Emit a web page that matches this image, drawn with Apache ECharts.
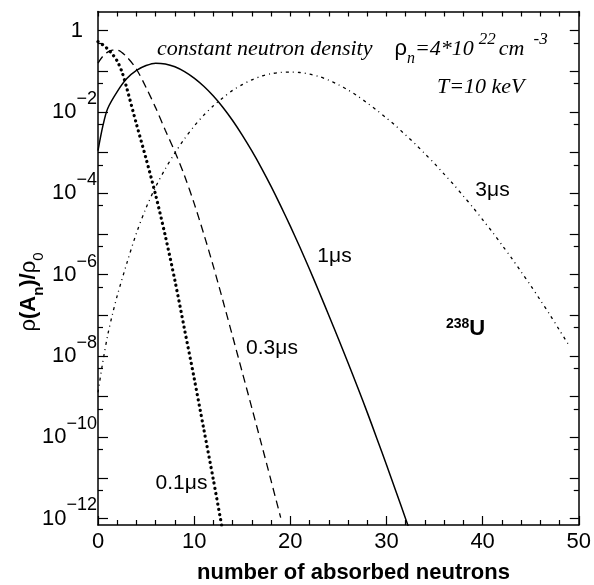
<!DOCTYPE html>
<html>
<head>
<meta charset="utf-8">
<script src="https://cdn.jsdelivr.net/npm/echarts@6.0.0/dist/echarts.min.js"></script>
<style>
  html, body { margin: 0; padding: 0; background: #fff; }
  #chart { width: 594px; height: 585px; }
</style>
</head>
<body>
<div id="chart"></div>
<script>
// number of absorbed neutrons n, and log10 of rho(A_n)/rho_0
const n01 = [0, 0.5, 1, 1.5, 2, 2.5, 3, 4, 5, 6, 7, 8, 9, 10, 11, 12, 13]
const lg01 = [-0.27, -0.35, -0.45, -0.58, -0.75, -1.02, -1.42, -2.3, -3.15, -4.05, -5.05, -6.15, -7.35, -8.55, -9.8, -11.05, -12.35]

const n03 = [0, 0.5, 1, 1.5, 2, 3, 4, 5, 6, 7, 8, 9, 10, 11, 12, 13, 14, 15, 16, 17, 18, 19]
const lg03 = [-0.8, -0.63, -0.53, -0.48, -0.48, -0.65, -0.95, -1.4, -1.9, -2.45, -2.98, -3.57, -4.25, -5.0, -5.8, -6.65, -7.52, -8.4, -9.28, -10.17, -11.07, -11.98]

const n1 = [0, 0.5, 1, 2, 3, 4, 5, 6, 7, 8, 9, 10, 11, 12, 13, 14, 15, 16, 17, 18, 19, 20, 21, 22, 23, 24, 25, 26, 27, 28, 29, 30, 31, 32, 33]
const lg1 = [-2.95, -2.35, -1.92, -1.5, -1.18, -0.98, -0.86, -0.8, -0.82, -0.89, -1.01, -1.17, -1.37, -1.61, -1.89, -2.21, -2.57, -2.96, -3.38, -3.83, -4.31, -4.81, -5.33, -5.87, -6.43, -7.0, -7.58, -8.17, -8.77, -9.39, -10.03, -10.68, -11.34, -12.01, -12.69]

const n3 = [0, 0.5, 1, 1.5, 2, 3, 4, 5, 6, 7, 8, 9, 10, 11, 12, 13, 14, 15, 16, 17, 18, 19, 20, 21, 22, 23, 24, 25, 26, 27, 28, 29, 30, 31, 32, 33, 34, 35, 36, 37, 38, 39, 40, 41, 42, 43, 44, 45, 46, 47, 48, 49]
const lg3 = [-8.9, -8.15, -7.5, -6.98, -6.52, -5.72, -4.98, -4.36, -3.84, -3.4, -3.01, -2.66, -2.35, -2.08, -1.85, -1.65, -1.47, -1.33, -1.21, -1.12, -1.06, -1.03, -1.02, -1.03, -1.07, -1.13, -1.22, -1.33, -1.46, -1.61, -1.78, -1.96, -2.15, -2.35, -2.57, -2.79, -3.03, -3.27, -3.53, -3.79, -4.07, -4.35, -4.65, -4.95, -5.27, -5.59, -5.93, -6.27, -6.63, -6.99, -7.37, -7.75]

// y axis is log10 space
const yMin = -12.16
const yMax = 0.47
const yTickExp = [0, -1, -2, -3, -4, -5, -6, -7, -8, -9, -10, -11, -12]
const yLabelExp = [0, -2, -4, -6, -8, -10, -12]
const yMinorExp = yTickExp.map(e => e - Math.log10(2)).filter(v => v >= yMin)

function pairs (xs, ys) {
  return xs.map((x, i) => [x, ys[i]])
}

const black = '#000'
const sans = 'Liberation Sans'
const serif = 'Liberation Serif'

let chart = echarts.init(document.getElementById('chart'), null, { renderer: 'canvas' })

let lineAxis = { show: true, onZero: false, lineStyle: { color: black, width: 1.5 } }

let option = {
  animation: false,
  backgroundColor: '#fff',
  grid: { left: 98, right: 14, top: 11.5, bottom: 60 },
  xAxis: [
    {
      type: 'value', position: 'bottom', min: 0, max: 50, interval: 10,
      axisLine: lineAxis,
      axisTick: { inside: true, length: 9, lineStyle: { color: black, width: 1.2 } },
      minorTick: { show: true, splitNumber: 5, length: 5, lineStyle: { color: black, width: 1.2 } },
      axisLabel: { color: black, fontSize: 22, fontFamily: sans, margin: 6 },
      splitLine: { show: false }
    },
    {
      type: 'value', position: 'top', min: 0, max: 50, interval: 2,
      axisLine: lineAxis,
      axisTick: { inside: true, length: 5, lineStyle: { color: black, width: 1.2 } },
      axisLabel: { show: false },
      splitLine: { show: false }
    }
  ],
  yAxis: [
    {
      type: 'value', position: 'left', min: yMin, max: yMax,
      axisLine: lineAxis,
      axisTick: { inside: true, length: 10, customValues: yTickExp, lineStyle: { color: black, width: 1.2 } },
      axisLabel: {
        customValues: yLabelExp,
        margin: 1,
        color: black,
        formatter: function (v) {
          let e = Math.round(v)
          if (e === 0) return '{one|1}'
          return '{b|10}{s|\u2212' + Math.abs(e) + '}'
        },
        rich: {
          b: { fontSize: 22, fontFamily: sans, lineHeight: 44, color: black },
          s: { fontSize: 18, fontFamily: sans, lineHeight: 12, verticalAlign: 'top', color: black },
          one: { fontSize: 22, fontFamily: sans, lineHeight: 44, padding: [0, 14, 0, 0], color: black }
        }
      },
      splitLine: { show: false }
    },
    {
      type: 'value', position: 'left', min: yMin, max: yMax,
      axisLine: { show: false, onZero: false },
      axisTick: { inside: true, length: 5, customValues: yMinorExp, lineStyle: { color: black, width: 1.2 } },
      axisLabel: { show: false },
      splitLine: { show: false }
    },
    {
      type: 'value', position: 'right', min: yMin, max: yMax,
      axisLine: lineAxis,
      axisTick: { inside: true, length: 9, customValues: yTickExp, lineStyle: { color: black, width: 1.2 } },
      axisLabel: { show: false },
      splitLine: { show: false }
    },
    {
      type: 'value', position: 'right', min: yMin, max: yMax,
      axisLine: { show: false, onZero: false },
      axisTick: { inside: true, length: 5, customValues: yMinorExp, lineStyle: { color: black, width: 1.2 } },
      axisLabel: { show: false },
      splitLine: { show: false }
    }
  ],
  series: [
    {
      name: '0.1us', type: 'line', data: pairs(n01, lg01), symbol: 'none', smooth: 0.3,
      lineStyle: { color: black, width: 3.2, type: [0.1, 5.2], cap: 'round' }
    },
    {
      name: '0.3us', type: 'line', data: pairs(n03, lg03), symbol: 'none', smooth: 0.3,
      lineStyle: { color: black, width: 1.3, type: [8, 5] }
    },
    {
      name: '1us', type: 'line', data: pairs(n1, lg1), symbol: 'none', smooth: 0.3,
      lineStyle: { color: black, width: 1.5, type: 'solid' }
    },
    {
      name: '3us', type: 'line', data: pairs(n3, lg3), symbol: 'none', smooth: 0.3,
      lineStyle: { color: black, width: 1.3, type: [3, 4, 1, 4] }
    }
  ],
  graphic: [
    {
      type: 'text', x: 157, y: 49,
      style: {
        text: '{i|constant neutron density}{r|\u03c1}{sub|n}{i|=4*10}{sup1|22}{cm|cm}{sup2|-3}',
        textAlign: 'left', textVerticalAlign: 'middle',
        rich: {
          i: { fontFamily: serif, fontStyle: 'italic', fontSize: 22, lineHeight: 36, fill: black },
          cm: { fontFamily: serif, fontStyle: 'italic', fontSize: 22, lineHeight: 36, padding: [0, 0, 0, 3], fill: black },
          r: { fontFamily: sans, fontSize: 22, lineHeight: 36, padding: [0, 0, 0, 22], fill: black },
          sub: { fontFamily: serif, fontStyle: 'italic', fontSize: 16, lineHeight: 8, verticalAlign: 'bottom', fill: black },
          sup1: { fontFamily: serif, fontStyle: 'italic', fontSize: 17, lineHeight: 18, verticalAlign: 'top', padding: [0, 0, 0, 5], fill: black },
          sup2: { fontFamily: serif, fontStyle: 'italic', fontSize: 17, lineHeight: 18, verticalAlign: 'top', padding: [0, 0, 0, 9], fill: black }
        }
      }
    },
    {
      type: 'text', x: 437, y: 87,
      style: { text: 'T=10 keV', font: 'italic 22px "Liberation Serif"', fill: black, textAlign: 'left', textVerticalAlign: 'middle' }
    },
    {
      type: 'text', x: 492.5, y: 190,
      style: { text: '3\u03bcs', font: '21px "Liberation Sans"', fill: black, textAlign: 'center', textVerticalAlign: 'middle' }
    },
    {
      type: 'text', x: 334.5, y: 256,
      style: { text: '1\u03bcs', font: '21px "Liberation Sans"', fill: black, textAlign: 'center', textVerticalAlign: 'middle' }
    },
    {
      type: 'text', x: 272, y: 348,
      style: { text: '0.3\u03bcs', font: '21px "Liberation Sans"', fill: black, textAlign: 'center', textVerticalAlign: 'middle' }
    },
    {
      type: 'text', x: 181.5, y: 483,
      style: { text: '0.1\u03bcs', font: '21px "Liberation Sans"', fill: black, textAlign: 'center', textVerticalAlign: 'middle' }
    },
    {
      type: 'text', x: 446, y: 329,
      style: {
        text: '{s|238}{u|U}',
        textAlign: 'left', textVerticalAlign: 'middle',
        rich: {
          s: { fontFamily: sans, fontWeight: 'bold', fontSize: 14, lineHeight: 10, verticalAlign: 'top', fill: black },
          u: { fontFamily: sans, fontWeight: 'bold', fontSize: 22, lineHeight: 24, fill: black }
        }
      }
    },
    {
      type: 'text', x: 353.5, y: 573,
      style: { text: 'number of absorbed neutrons', font: 'bold 22px "Liberation Sans"', fill: black, textAlign: 'center', textVerticalAlign: 'middle' }
    },
    {
      type: 'text', x: 29, y: 292, rotation: Math.PI / 2,
      style: {
        text: '{r|\u03c1}{b|(A}{sub|n}{b|)/}{r|\u03c1}{sub0|0}',
        textAlign: 'center', textVerticalAlign: 'middle',
        rich: {
          r: { fontFamily: sans, fontSize: 22, lineHeight: 34, fill: black },
          b: { fontFamily: sans, fontWeight: 'bold', fontSize: 22, lineHeight: 34, fill: black },
          sub: { fontFamily: sans, fontWeight: 'bold', fontSize: 15, lineHeight: 12, verticalAlign: 'bottom', fill: black },
          sub0: { fontFamily: sans, fontSize: 15, lineHeight: 12, verticalAlign: 'bottom', fill: black }
        }
      }
    }
  ]
}

chart.setOption(option)
</script>
</body>
</html>
